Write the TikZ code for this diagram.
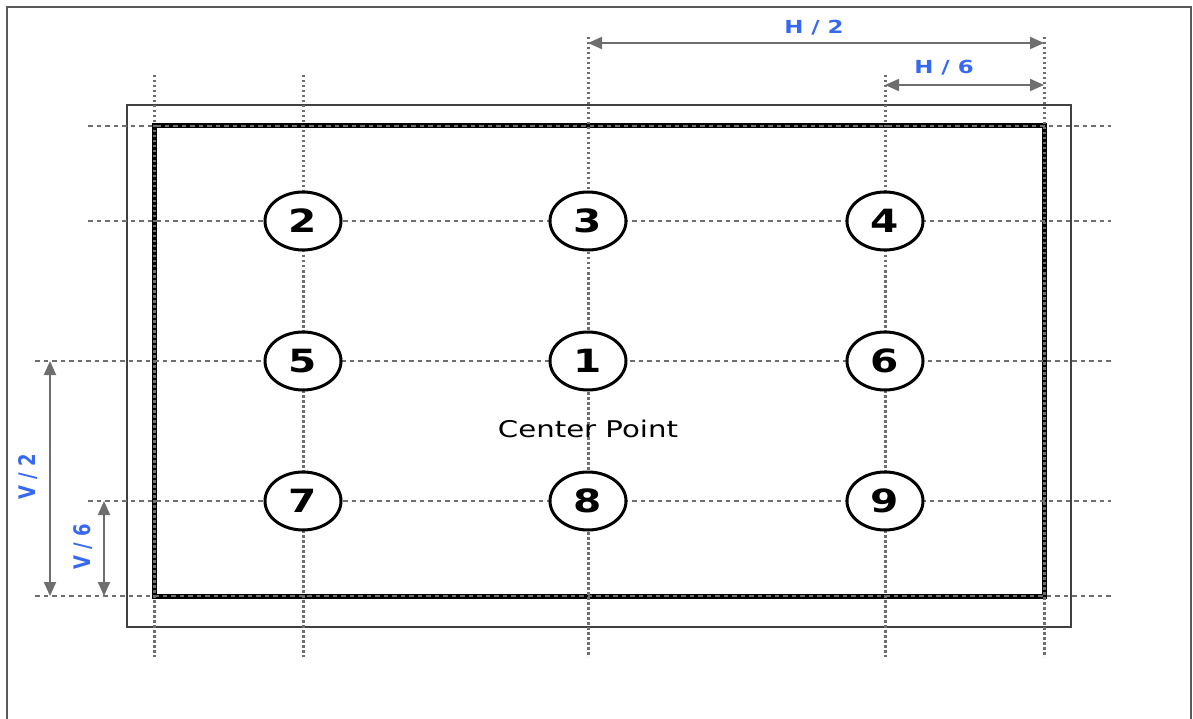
\documentclass[tikz,border=0pt]{standalone}
\usepackage{fontspec}
\usetikzlibrary{arrows.meta,shapes.geometric}
\newfontfamily\numfont{DejaVu Sans}[FakeStretch=1.27]
\newfontfamily\lblfont{DejaVu Sans}
\definecolor{dimblue}{RGB}{55,105,240}
\definecolor{dotgray}{RGB}{110,110,110}
\definecolor{arrgray}{RGB}{110,110,110}
\definecolor{framegray}{RGB}{90,90,90}
\begin{document}
\begin{tikzpicture}[x=1pt,y=-1pt,
  framestyle/.style={draw=framegray,line width=2},
  outerbox/.style={draw=black!75,line width=1.5},
  screenbox/.style={draw=black,line width=5},
  hdot/.style={draw=dotgray,line width=2.6,dash pattern=on 4.5 off 4},
  vdot/.style={draw=dotgray,line width=3,dash pattern=on 2.5 off 2.5},
  ptnode/.style={ellipse,draw=black,line width=3,fill=white,minimum width=76,minimum height=58,inner sep=0,
    font=\numfont\bfseries\fontsize{32}{32}\selectfont},
  dimarrow/.style={draw=arrgray,line width=2,{Triangle[length=14pt,width=12pt]}-{Triangle[length=14pt,width=12pt]}},
  hlabel/.style={text=dimblue,inner sep=0,font=\numfont\bfseries\fontsize{18}{18}\selectfont},
  vlabel/.style={text=dimblue,inner sep=0,rotate=90,yscale=1.27,font=\lblfont\bfseries\fontsize{18}{18}\selectfont},
  centertext/.style={anchor=base,inner sep=0,font=\numfont\fontsize{23}{23}\selectfont}
]
\useasboundingbox (0,0) rectangle (1193,719);
% outer frame (bottom edge cut off)
\draw[framestyle] (7,719) -- (7,7) -- (1191,7) -- (1191,719);
% outer thin box
\draw[outerbox] (127,105) rectangle (1071,627);
% screen (thick)
\draw[screenbox] (154,126) rectangle (1044,596);
% dotted guide lines
\foreach \yy/\xa in {126/88, 221/88, 361/35, 501/88, 596/35}
  \draw[hdot] (\xa,\yy) -- (1111,\yy);
\foreach \xx/\ya in {154/75, 303/75, 588/37, 885/75, 1044/37}
  \draw[vdot] (\xx,\ya) -- (\xx,657);
% points
\node[ptnode] (p2) at (303,221) {2};
\node[ptnode] (p3) at (588,221) {3};
\node[ptnode] (p4) at (885,221) {4};
\node[ptnode] (p5) at (303,361) {5};
\node[ptnode] (p1) at (588,361) {1};
\node[ptnode] (p6) at (885,361) {6};
\node[ptnode] (p7) at (303,501) {7};
\node[ptnode] (p8) at (588,501) {8};
\node[ptnode] (p9) at (885,501) {9};
\node[centertext] (cp) at (588,437) {Center Point};
% dimension arrows
\coordinate (h2a) at (588,43);
\coordinate (h2b) at (1044,43);
\coordinate (h6a) at (885,85);
\coordinate (h6b) at (1044,85);
\coordinate (v2a) at (50,361);
\coordinate (v2b) at (50,596);
\coordinate (v6a) at (104,501);
\coordinate (v6b) at (104,596);
\draw[dimarrow] (h2a) -- (h2b);
\draw[dimarrow] (h6a) -- (h6b);
\draw[dimarrow] (v2a) -- (v2b);
\draw[dimarrow] (v6a) -- (v6b);
\node[hlabel] (lh2) at (814,28) {H / 2};
\node[hlabel] (lh6) at (944,68) {H / 6};
\node[vlabel] (lv2) at (28,477) {V / 2};
\node[vlabel] (lv6) at (83,547) {V / 6};
\end{tikzpicture}
\end{document}
